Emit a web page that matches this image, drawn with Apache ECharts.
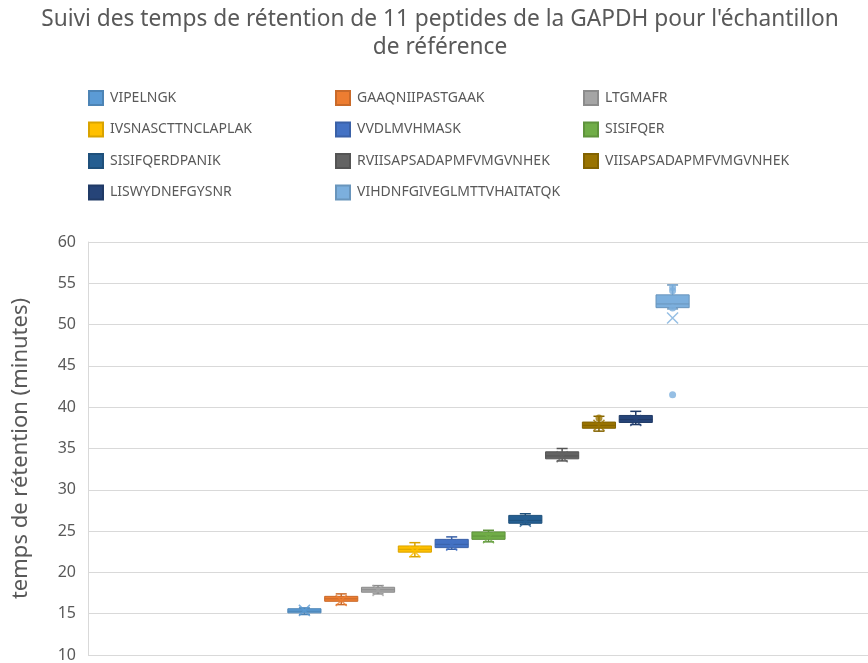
<!DOCTYPE html>
<html>
<head>
<meta charset="utf-8">
<script src="https://cdn.jsdelivr.net/npm/echarts@6/dist/echarts.min.js"></script>
<style>
    html, body { margin: 0; padding: 0; background: #fff; }
    #chart { width: 868px; height: 663px; }
</style>
</head>
<body>
<div id="chart"></div>
<script>
    // peptides, dans l'ordre de la légende
    var peptides = ['VIPELNGK', 'GAAQNIIPASTGAAK', 'LTGMAFR', 'IVSNASCTTNCLAPLAK', 'VVDLMVHMASK', 'SISIFQER',
        'SISIFQERDPANIK', 'RVIISAPSADAPMFVMGVNHEK', 'VIISAPSADAPMFVMGVNHEK', 'LISWYDNEFGYSNR', 'VIHDNFGIVEGLMTTVHAITATQK'];
    // [min, Q1, médiane, Q3, max] en minutes
    var boxes = [
        [14.9, 15.1, 15.3, 15.6, 15.7],
        [16.1, 16.5, 16.8, 17.1, 17.4],
        [17.4, 17.6, 17.9, 18.2, 18.4],
        [21.9, 22.45, 22.8, 23.2, 23.6],
        [22.8, 23.0, 23.4, 24.0, 24.3],
        [23.7, 24.0, 24.4, 24.9, 25.1],
        [25.8, 25.95, 26.3, 26.9, 27.1],
        [33.5, 33.75, 34.1, 34.6, 35.0],
        [37.1, 37.45, 37.8, 38.2, 38.9],
        [37.9, 38.15, 38.5, 39.0, 39.5],
        [51.9, 52.05, 52.5, 53.6, 54.8]
    ];
    // moyennes (croix)
    var means = [15.4, 16.6, 17.8, 22.5, 23.3, 24.2, 26.2, 34.0, 37.8, 38.4, 50.8];
    // points isolés : [index du peptide, valeur]
    var points = [[8, 38.7], [10, 41.5], [10, 52.0], [10, 54.1], [10, 54.5]];
    // axe des ordonnées
    var yMin = 10, yMax = 60, yStep = 5;

    var colors = ['#5B9BD5', '#ED7D31', '#A5A5A5', '#FFC000', '#4472C4', '#70AD47',
        '#255E91', '#636363', '#997300', '#264478', '#7CAFDD'];
    var textColor = '#595959';
    var font = '"Noto Sans", "Open Sans", sans-serif';

    function darken(hex, k){ // assombrit une couleur #rrggbb
        var n = parseInt(hex.slice(1), 16);
        var r = Math.round(((n >> 16) & 255) * k), g = Math.round(((n >> 8) & 255) * k), b = Math.round((n & 255) * k);
        return 'rgb(' + r + ',' + g + ',' + b + ')';
    }

    function renderBox(params, api){
        var i = api.value(0);
        var lo = api.coord([i, api.value(1)]);
        var q1 = api.coord([i, api.value(2)]);
        var md = api.coord([i, api.value(3)]);
        var q3 = api.coord([i, api.value(4)]);
        var hi = api.coord([i, api.value(5)]);
        var band = api.size([1, 0])[0];
        var w = band * 0.9, cap = 11, cx = lo[0];
        var fill = colors[params.seriesIndex];
        var stroke = darken(fill, 0.85);
        var ls = { stroke: stroke, lineWidth: 1.5 };
        return {
            type: 'group',
            children: [
                { type: 'line', shape: { x1: cx, y1: hi[1], x2: cx, y2: q3[1] }, style: ls },
                { type: 'line', shape: { x1: cx, y1: lo[1], x2: cx, y2: q1[1] }, style: ls },
                { type: 'line', shape: { x1: cx - cap / 2, y1: hi[1], x2: cx + cap / 2, y2: hi[1] }, style: ls },
                { type: 'line', shape: { x1: cx - cap / 2, y1: lo[1], x2: cx + cap / 2, y2: lo[1] }, style: ls },
                { type: 'rect', shape: { x: cx - w / 2, y: q3[1], width: w, height: q1[1] - q3[1] },
                    style: { fill: fill, stroke: stroke, lineWidth: 1 } },
                { type: 'line', shape: { x1: cx - w / 2, y1: md[1], x2: cx + w / 2, y2: md[1] },
                    style: { stroke: stroke, lineWidth: 1 } }
            ]
        };
    }

    var series = peptides.map(function(name, i){
        return {
            name: name,
            type: 'custom',
            xAxisIndex: 1,
            yAxisIndex: 1,
            itemStyle: { color: colors[i], borderColor: darken(colors[i], 0.85), borderWidth: 1 },
            renderItem: renderBox,
            encode: { x: 0, y: [1, 2, 3, 4, 5] },
            data: [[i].concat(boxes[i])]
        };
    });
    series.push({
        name: 'moyenne',
        type: 'scatter',
        xAxisIndex: 1,
        yAxisIndex: 1,
        z: 5,
        symbol: 'path://M0,0L10,10M10,0L0,10',
        symbolSize: 11,
        data: means.map(function(m, i){
            return { value: [i, m], itemStyle: { color: 'none', borderColor: colors[i], borderWidth: 1.5 } };
        })
    });
    series.push({
        name: 'points',
        type: 'scatter',
        xAxisIndex: 1,
        yAxisIndex: 1,
        z: 5,
        symbolSize: 7,
        data: points.map(function(p){
            return { value: [p[0], p[1]], itemStyle: { color: colors[p[0]] } };
        })
    });

    var legendLeft = [88, 335, 583];
    var legends = legendLeft.map(function(left, c){
        return {
            orient: 'vertical',
            left: left,
            top: 90,
            padding: 0,
            itemWidth: 14,
            itemHeight: 14,
            itemGap: 15.5,
            icon: 'rect',
            data: peptides.filter(function(p, i){ return i % 3 === c; }),
            textStyle: { color: textColor, fontSize: 14, fontFamily: font, padding: [0, 0, 0, 2] }
        };
    });

    var option = {
        animation: false,
        title: {
            text: "Suivi des temps de rétention de 11 peptides de la GAPDH pour l'échantillon\nde référence",
            left: 440,
            textAlign: 'center',
            top: 6,
            padding: 0,
            textStyle: { color: textColor, fontSize: 22.7, fontWeight: 'normal', fontFamily: font, lineHeight: 28 }
        },
        legend: legends,
        grid: [
            { left: 88, right: 0, top: 242, bottom: 8, containLabel: false, outerBoundsMode: 'none' },
            { left: 286, width: 405, top: 242, bottom: 8, containLabel: false, outerBoundsMode: 'none' }
        ],
        xAxis: [
            { gridIndex: 0, type: 'value', show: false },
            { gridIndex: 1, type: 'category', data: peptides, show: false }
        ],
        yAxis: [
            {
                gridIndex: 0,
                type: 'value',
                min: yMin,
                max: yMax,
                interval: yStep,
                name: 'temps de rétention (minutes)',
                nameLocation: 'middle',
                nameGap: 56,
                nameTextStyle: { color: textColor, fontSize: 22, fontFamily: font },
                axisLine: { show: true, lineStyle: { color: '#d9d9d9' } },
                axisTick: { show: false },
                axisLabel: { color: textColor, fontSize: 16, fontFamily: font, margin: 12 },
                splitLine: { lineStyle: { color: '#d9d9d9', width: 1 } }
            },
            { gridIndex: 1, type: 'value', min: yMin, max: yMax, show: false }
        ],
        series: series
    };

    echarts.init(document.getElementById('chart')).setOption(option);
</script>
</body>
</html>
